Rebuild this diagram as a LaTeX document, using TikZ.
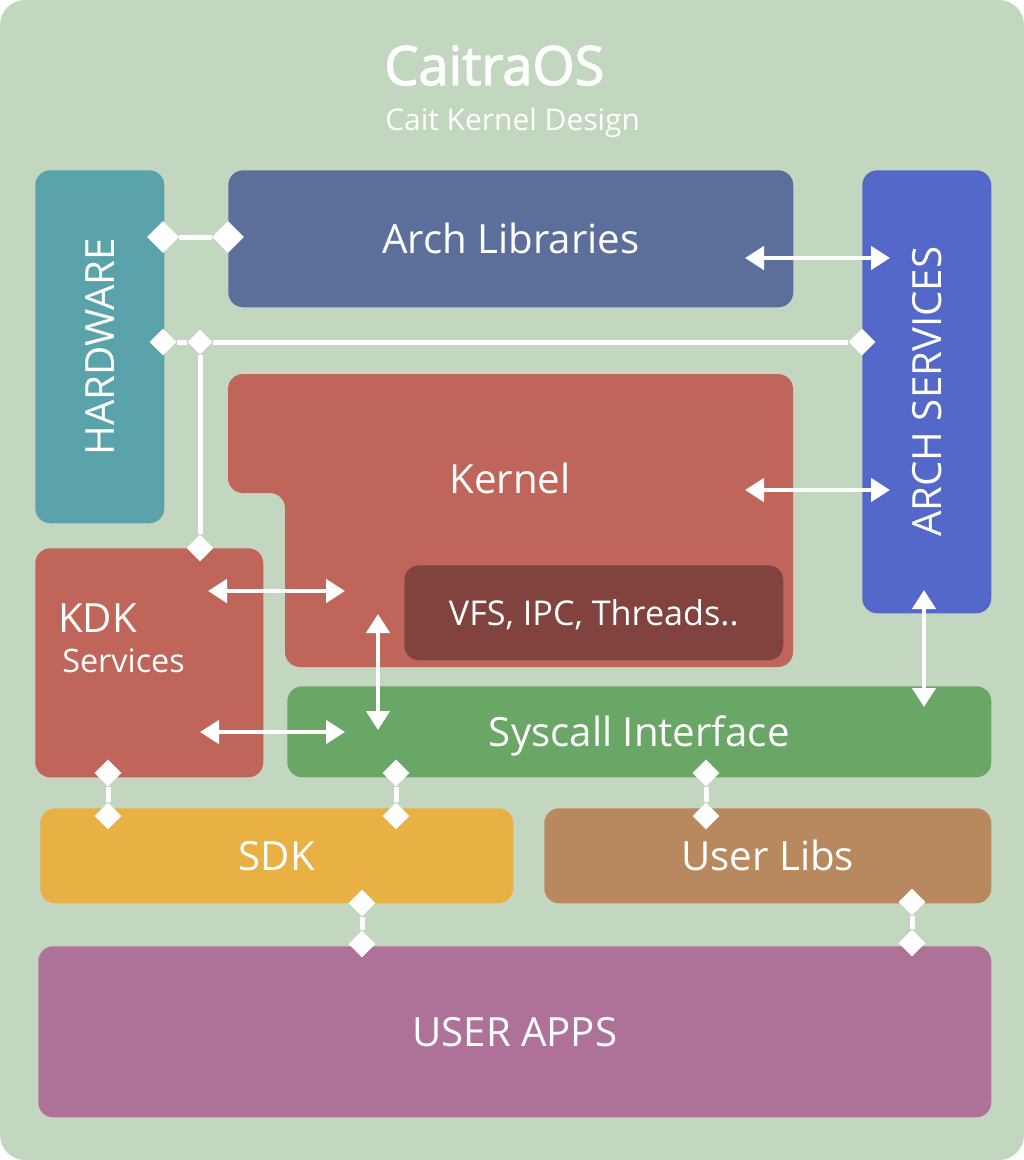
\documentclass[tikz,border=0pt]{standalone}
\usepackage{fontspec}
\setmainfont{Open Sans}
\usetikzlibrary{positioning}
\usetikzlibrary{shapes.geometric}
\usetikzlibrary{arrows.meta}

\definecolor{bgc}{HTML}{C3D6BF}
\definecolor{hwc}{HTML}{5BA3AB}
\definecolor{alc}{HTML}{5C6F9B}
\definecolor{asc}{HTML}{5468C9}
\definecolor{knc}{HTML}{C0655A}
\definecolor{vfc}{HTML}{82433E}
\definecolor{syc}{HTML}{6AA666}
\definecolor{sdc}{HTML}{E9B044}
\definecolor{ulc}{HTML}{B8895E}
\definecolor{uac}{HTML}{AE7298}

\newcommand{\pxu}{0.025cm}
\newfontfamily\titlefont[FakeBold=2.2]{Open Sans}

\tikzset{
	blk/.style={fill=#1,rounded corners=15*\pxu,inner sep=0pt,anchor=north west,text=white,font=\fontsize{28.6}{34}\selectfont,text height=20.5pt,text depth=0pt},
	sz/.style 2 args={minimum width=#1*\pxu,minimum height=#2*\pxu},
	lbl/.style={text=white,inner sep=0pt,font=\fontsize{28.6}{34}\selectfont},
	dia/.style={shape=diamond,fill=white,inner sep=0pt,minimum size=#1*\pxu},
	dia/.default=27,
	link/.style={draw=white,line width=5*\pxu},
	dbl/.style={draw=white,line width=4.5*\pxu,{Triangle[width=23*\pxu,length=19*\pxu]}-{Triangle[width=23*\pxu,length=19*\pxu]}}
}

\begin{document}
\begin{tikzpicture}[x=\pxu,y=-\pxu]
	\useasboundingbox (0,0) rectangle (1024,1160);
	\fill[bgc,rounded corners=25*\pxu] (0,0) rectangle (1024,1160);
	%% title
	\node[lbl,anchor=base west,font=\titlefont\fontsize{38.5}{46}\selectfont] (t1) at (384,85) {CaitraOS};
	\node[lbl,anchor=base west,font=\fontsize{21.3}{25}\selectfont] (t2) at (385,130) {Cait Kernel Design};
	%% blocks
	\node[blk=hwc,sz={129}{353}] (hw) at (35,170) {};
	\node[lbl,rotate=90] at (hw.center) {HARDWARE};
	\node[blk=alc,sz={565}{137}] (alib) at (228,170) {Arch Libraries};
	\node[blk=asc,sz={129}{443}] (asrv) at (862,170) {};
	\node[lbl,rotate=90] at (asrv.center) {ARCH SERVICES};
	% kernel with notch
	\fill[knc,rounded corners=15*\pxu] (228,374) -- (793,374) -- (793,667) -- (285,667) -- (285,493) -- (228,493) -- cycle;
	\node[lbl] (kern) at (510,478) {Kernel};
	\node[blk=vfc,sz={379}{95},font=\fontsize{24.3}{28}\selectfont,text height=17.4pt] (vfs) at (404,565) {VFS, IPC, Threads..};
	\node[blk=knc,sz={228}{229}] (kdk) at (35,548) {};
	\node[lbl,anchor=base west] (k1) at (58,632) {KDK};
	\node[lbl,anchor=base west,font=\fontsize{23}{27}\selectfont] (k2) at (62,672) {Services};
	\node[blk=syc,sz={704}{91}] (sys) at (287,686) {Syscall Interface};
	\node[blk=sdc,sz={473}{95}] (sdk) at (40,808) {SDK};
	\node[blk=ulc,sz={447}{95}] (ulib) at (544,808) {User Libs};
	\node[blk=uac,sz={953}{171}] (uapp) at (38,946) {USER APPS};
	%% diamonds
	\node[dia=32] (d1) at (163,237) {};
	\node[dia=32] (d2) at (228,237) {};
	\node[dia] (d3) at (163,342) {};
	\node[dia=25] (d4) at (200,342) {};
	\node[dia] (d5) at (862,342) {};
	\node[dia] (d6) at (200,548) {};
	\node[dia] (d7) at (108,773) {};
	\node[dia] (d8) at (108,816) {};
	\node[dia] (d9) at (396,773) {};
	\node[dia] (d10) at (396,816) {};
	\node[dia] (d11) at (706,773) {};
	\node[dia] (d12) at (706,816) {};
	\node[dia] (d13) at (362,903) {};
	\node[dia] (d14) at (362,944) {};
	\node[dia] (d15) at (912,902) {};
	\node[dia] (d16) at (912,943) {};
	\draw[link] (d1) -- (d2);
	\draw[link] (d3) -- (d4) -- (d5);
	\draw[link] (d4) -- (d6);
	\foreach \a/\b in {d7/d8,d9/d10,d11/d12,d13/d14,d15/d16}
		\draw[link] (\a) -- (\b);
	%% arrow ends
	\coordinate (c1) at (745,258);
	\coordinate (c2) at (890,258);
	\coordinate (c3) at (745,490);
	\coordinate (c4) at (890,490);
	\coordinate (c5) at (208,591);
	\coordinate (c6) at (345,591);
	\coordinate (c7) at (200,732);
	\coordinate (c8) at (345,732);
	\coordinate (c9) at (378,614);
	\coordinate (c10) at (378,730);
	\coordinate (c11) at (924,590);
	\coordinate (c12) at (924,707);
	\foreach \a/\b in {c1/c2,c3/c4,c5/c6,c7/c8,c9/c10,c11/c12}
		\draw[dbl] (\a) -- (\b);
\end{tikzpicture}
\end{document}
